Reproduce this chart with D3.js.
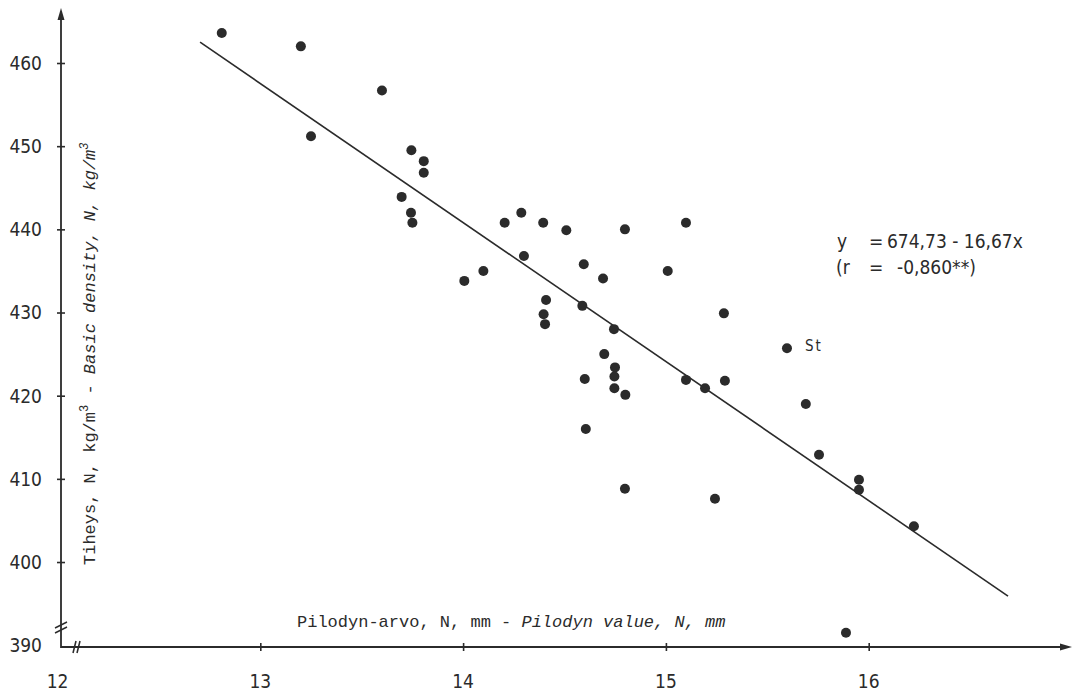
<!DOCTYPE html>
<html>
<head>
<meta charset="utf-8">
<script src="https://cdn.jsdelivr.net/npm/d3@7"></script>
<style>
  html, body { margin: 0; padding: 0; background: #fff; }
  svg { display: block; }
</style>
</head>
<body>
<svg id="chart" width="1080" height="694"></svg>
<script>
// ---- data ----
const pilodyn = [12.81, 13.20, 13.60, 13.25, 13.745, 13.806, 13.806, 13.697, 13.743, 13.75,
  14.205, 14.287, 14.395, 14.509, 14.798, 15.099, 14.30, 14.10, 14.006, 14.595,
  14.69, 15.009, 14.409, 14.588, 14.397, 14.404, 14.744, 14.696, 14.749, 14.746,
  14.60, 14.746, 14.80, 15.099, 15.193, 14.605, 14.798, 15.242, 15.286, 15.291,
  15.597, 15.69, 15.755, 15.952, 15.952, 16.223, 15.888];
const density = [463.6, 462.0, 456.7, 451.2, 449.5, 448.2, 446.8, 443.9, 442.0, 440.8,
  440.8, 442.0, 440.8, 439.9, 440.0, 440.8, 436.8, 435.0, 433.8, 435.8,
  434.1, 435.0, 431.5, 430.8, 429.8, 428.6, 428.0, 425.0, 423.4, 422.3,
  422.0, 420.9, 420.1, 421.9, 420.9, 416.0, 408.8, 407.6, 429.9, 421.8,
  425.7, 419.0, 412.9, 409.9, 408.7, 404.3, 391.5];
const xTicks = [13, 14, 15, 16];
const xTickLabels = ["12", "13", "14", "15", "16"];
const xLabelValues = [12, 13, 14, 15, 16];
const yTicks = [400, 410, 420, 430, 440, 450, 460];
const yLabelValues = [390, 400, 410, 420, 430, 440, 450, 460];
const regX = [12.703, 16.687];
const regY = [462.5, 395.9];
const stIndex = 40; // the point labelled "St"

// ---- layout ----
const svg = d3.select("#chart");
const axisX0 = 61, axisY0 = 647, xEnd = 1072, yTop = 8;
const ink = "#2b2b2b";
const numFont = "'DejaVu Sans Condensed', 'DejaVu Sans', sans-serif";
const monoFont = "'Liberation Mono', 'DejaVu Sans Mono', monospace";

const x = d3.scaleLinear().domain([12, 16]).range([57.5, 868.7]);
const y = d3.scaleLinear().domain([390, 460]).range([645.2, 63]);

// axis lines (broken axes)
const g = svg.append("g").attr("stroke", ink).attr("fill", "none").attr("stroke-width", 1.8);
g.append("path").attr("d", `M${axisX0},${yTop + 6}V${axisY0}H${xEnd - 6}`);
// arrowheads
svg.append("path").attr("fill", ink)
  .attr("d", `M${axisX0},${yTop}L${axisX0 - 3.5},${yTop + 12}L${axisX0 + 3.5},${yTop + 12}Z`);
svg.append("path").attr("fill", ink)
  .attr("d", `M${xEnd},${axisY0}L${xEnd - 12},${axisY0 - 3.5}L${xEnd - 12},${axisY0 + 3.5}Z`);
// break marks on y axis
[0, 5].forEach(d => {
  g.append("line").attr("x1", axisX0 - 6).attr("y1", 628 + d)
    .attr("x2", axisX0 + 6).attr("y2", 622 + d).attr("stroke-width", 1.5);
});
// break marks on x axis
[0, 4].forEach(d => {
  g.append("line").attr("x1", 73 + d).attr("y1", axisY0 + 6)
    .attr("x2", 76 + d).attr("y2", axisY0 - 6).attr("stroke-width", 1.5);
});

// y axis ticks and labels via d3.axis
const yAxis = d3.axisLeft(y).tickValues(yTicks).tickSize(0).tickFormat(() => "");
const yg = svg.append("g").attr("transform", `translate(${axisX0},0)`).call(yAxis);
yg.select(".domain").remove();
yg.selectAll(".tick").append("line").attr("x1", -4).attr("x2", 4)
  .attr("stroke", ink).attr("stroke-width", 1.6);

svg.append("g").selectAll("text").data(yLabelValues).join("text")
  .attr("x", 42).attr("y", d => y(d)).attr("dy", "0.36em")
  .attr("text-anchor", "end").attr("font-family", numFont).attr("font-size", 19)
  .attr("fill", ink).text(d => d);

// x axis ticks and labels
const xAxis = d3.axisBottom(x).tickValues(xTicks).tickSize(0).tickFormat(() => "");
const xg = svg.append("g").attr("transform", `translate(0,${axisY0})`).call(xAxis);
xg.select(".domain").remove();
xg.selectAll(".tick").append("line").attr("y1", -4).attr("y2", 4)
  .attr("stroke", ink).attr("stroke-width", 1.6);

svg.append("g").selectAll("text").data(xLabelValues).join("text")
  .attr("x", d => x(d)).attr("y", 688)
  .attr("text-anchor", "middle").attr("font-family", numFont).attr("font-size", 19)
  .attr("fill", ink).text((d, i) => xTickLabels[i]);

// regression line
svg.append("line")
  .attr("x1", x(regX[0])).attr("y1", y(regY[0]))
  .attr("x2", x(regX[1])).attr("y2", y(regY[1]))
  .attr("stroke", ink).attr("stroke-width", 1.6);

// points
svg.append("g").selectAll("circle").data(pilodyn).join("circle")
  .attr("cx", d => x(d)).attr("cy", (d, i) => y(density[i]))
  .attr("r", 5).attr("fill", ink);

// St label
svg.append("text").attr("x", x(pilodyn[stIndex]) + 18).attr("y", y(density[stIndex]) + 3)
  .attr("font-family", numFont).attr("font-size", 15).attr("letter-spacing", 2)
  .attr("fill", ink).text("St");

// equation
const eq = svg.append("g").attr("font-family", numFont).attr("font-size", 19).attr("fill", ink);
const l1 = eq.append("text").attr("y", 248);
l1.append("tspan").attr("x", 837).text("y");
l1.append("tspan").attr("x", 869).text("=");
l1.append("tspan").attr("x", 887).text("674,73 - 16,67x");
const l2 = eq.append("text").attr("y", 274);
l2.append("tspan").attr("x", 836).text("(r");
l2.append("tspan").attr("x", 869).text("=");
l2.append("tspan").attr("x", 897).text("-0,860**)");

// axis titles
const xt = svg.append("text").attr("x", 297).attr("y", 627)
  .attr("font-family", monoFont).attr("font-size", 17).attr("fill", ink);
xt.append("tspan").text("Pilodyn-arvo, N, mm - ");
xt.append("tspan").attr("font-style", "italic").text("Pilodyn value, N, mm");

const yt = svg.append("text").attr("transform", "translate(95,565) rotate(-90)")
  .attr("font-family", monoFont).attr("font-size", 17).attr("fill", ink);
yt.append("tspan").text("Tiheys, N, kg/m");
yt.append("tspan").attr("font-size", 12).attr("dy", -7).text("3");
yt.append("tspan").attr("dy", 7).text(" - ");
yt.append("tspan").attr("font-style", "italic").text("Basic density, N, kg/m");
yt.append("tspan").attr("font-style", "italic").attr("font-size", 12).attr("dy", -7).text("3");
</script>
</body>
</html>
